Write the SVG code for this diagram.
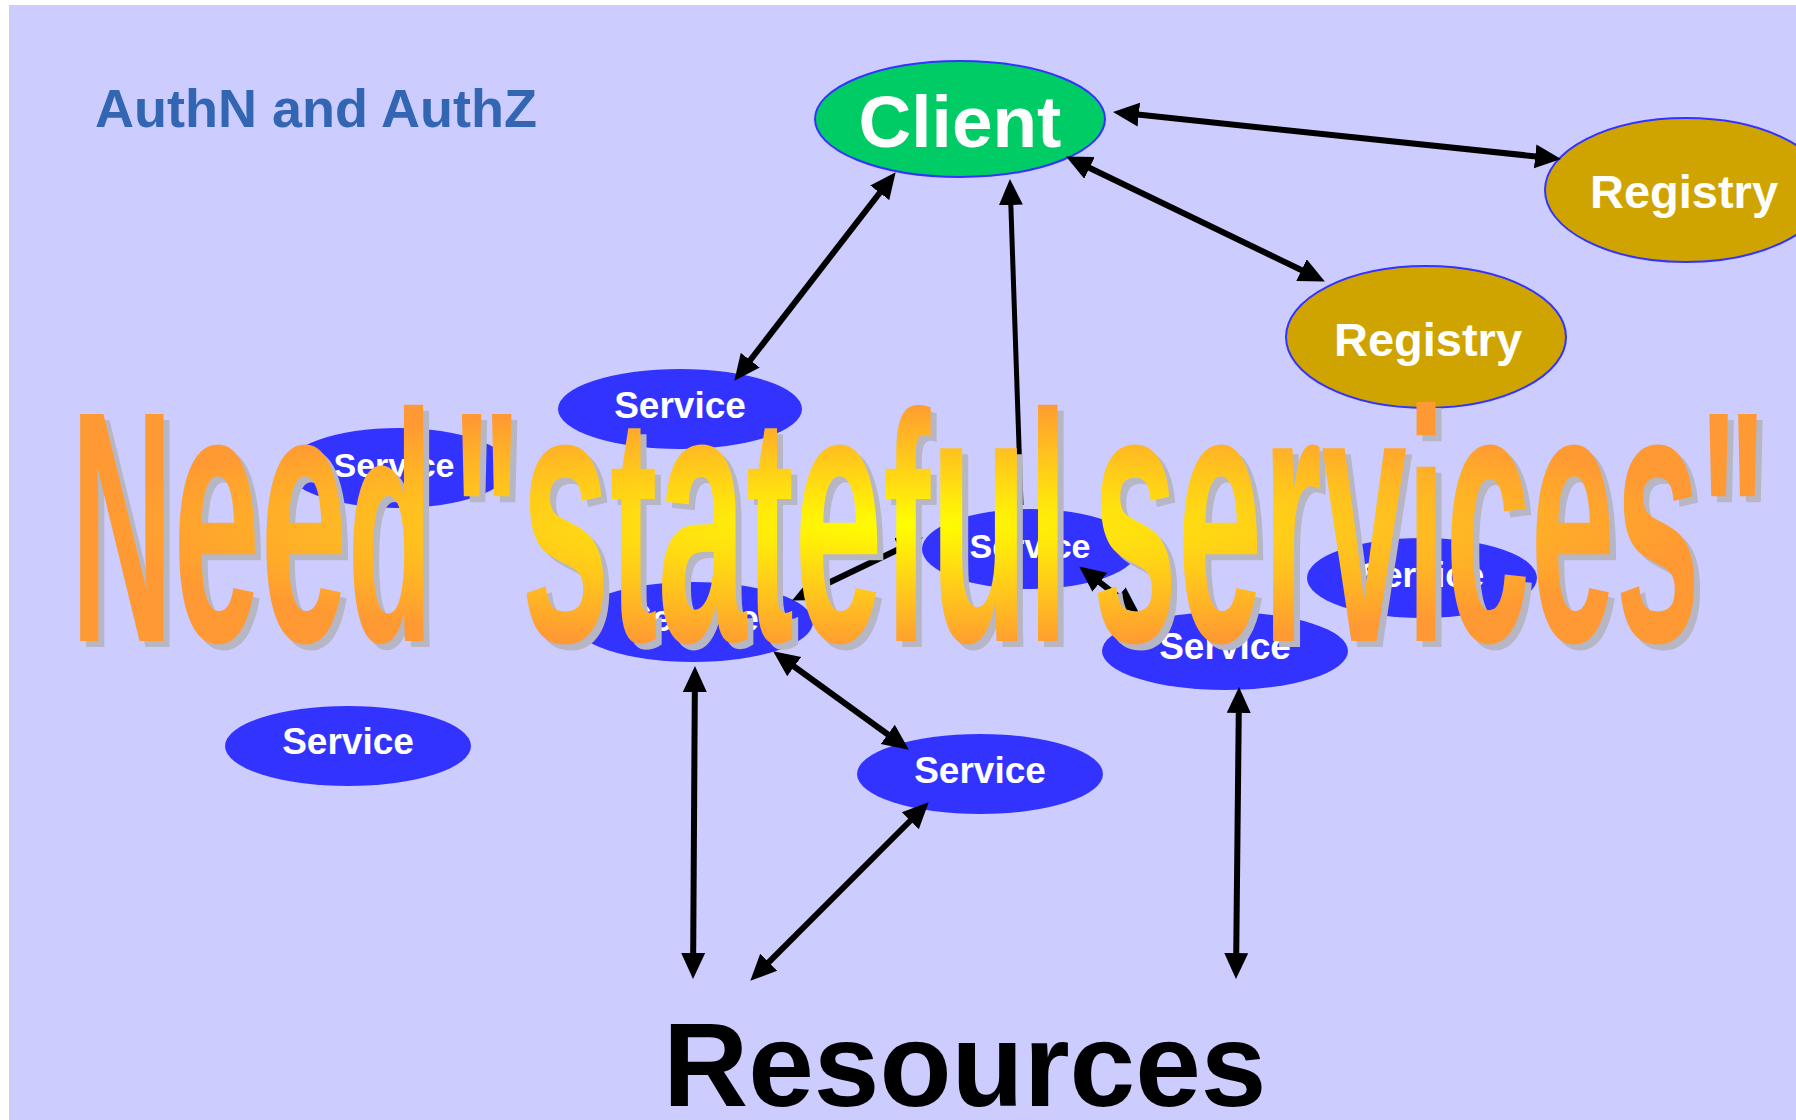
<svg xmlns="http://www.w3.org/2000/svg" width="1796" height="1120" viewBox="0 0 1796 1120">
  <style>
    .svc { fill: #3333FF; }
    .reg { fill: #D0A400; stroke: #3333FF; stroke-width: 2; }
    .lbl { font-family: "Liberation Sans", Arial, sans-serif; font-weight: bold; fill: #FFFFFF; text-anchor: middle; }
    .conn { stroke: #000000; stroke-width: 6; fill: none; marker-start: url(#ah); marker-end: url(#ah); }
    .wa { font-family: "Liberation Sans", Arial, sans-serif; font-weight: bold; }
    .x { font-size: 365px; }
    .a { font-size: 326px; }
    .i { font-size: 330px; }
    .c { font-size: 330px; }
  </style>
  <defs>
    <marker id="ah" viewBox="0 -13 26 26" markerWidth="26" markerHeight="26" refX="13" refY="0" orient="auto-start-reverse" markerUnits="userSpaceOnUse">
      <path d="M0,-12 L26,0 L0,12 z" fill="#000000"/>
    </marker>
    <radialGradient id="wag" gradientUnits="userSpaceOnUse" cx="0" cy="0" r="1" gradientTransform="translate(900 525) scale(800 125)">
      <stop offset="0" stop-color="#FFFF00"/>
      <stop offset="1" stop-color="#FF9933"/>
    </radialGradient>
  </defs>

  <rect x="0" y="0" width="1796" height="1120" fill="#FFFFFF"/>
  <rect x="9" y="5" width="1787" height="1115" fill="#CCCCFF"/>

  <g id="title">
    <text x="95" y="127" font-family="'Liberation Sans', Arial, sans-serif" font-weight="bold" font-size="54" fill="#3366B2">AuthN and AuthZ</text>
  </g>

  <g id="services">
    <g id="service-top">
      <ellipse class="svc" cx="680" cy="409" rx="122" ry="40"/>
      <text class="lbl" x="680" y="418" font-size="37">Service</text>
    </g>
    <g id="service-left">
      <ellipse class="svc" cx="398" cy="468" rx="112" ry="40"/>
      <text class="lbl" x="394" y="477" font-size="34">Service</text>
    </g>
    <g id="service-center">
      <ellipse class="svc" cx="693" cy="622" rx="120" ry="40"/>
      <text class="lbl" x="693" y="631" font-size="37">Service</text>
    </g>
    <g id="service-mid">
      <ellipse class="svc" cx="1030" cy="549" rx="108" ry="40"/>
      <text class="lbl" x="1030" y="558" font-size="34">Service</text>
    </g>
    <g id="service-right">
      <ellipse class="svc" cx="1422" cy="578" rx="115" ry="40"/>
      <text class="lbl" x="1422" y="587" font-size="35">Service</text>
    </g>
    <g id="service-lower-right">
      <ellipse class="svc" cx="1225" cy="651" rx="123" ry="39"/>
      <text class="lbl" x="1225" y="659" font-size="37">Service</text>
    </g>
    <g id="service-bottom">
      <ellipse class="svc" cx="980" cy="774" rx="123" ry="40"/>
      <text class="lbl" x="980" y="783" font-size="37">Service</text>
    </g>
    <g id="service-bottom-left">
      <ellipse class="svc" cx="348" cy="746" rx="123" ry="40"/>
      <text class="lbl" x="348" y="754" font-size="37">Service</text>
    </g>
  </g>

  <g id="client">
    <ellipse cx="960" cy="119" rx="145" ry="58" fill="#00CC66" stroke="#3333FF" stroke-width="2"/>
    <text class="lbl" x="960" y="147" font-size="73">Client</text>
  </g>

  <g id="registry-1">
    <ellipse class="reg" cx="1686" cy="190" rx="141" ry="72"/>
    <text class="lbl" x="1684" y="208" font-size="47">Registry</text>
  </g>

  <g id="registry-2">
    <ellipse class="reg" cx="1426" cy="337" rx="140" ry="71"/>
    <text class="lbl" x="1428" y="356" font-size="47">Registry</text>
  </g>

  <g id="resources">
    <text x="663" y="1106" font-family="'Liberation Sans', Arial, sans-serif" font-weight="bold" font-size="118" fill="#000000">Resources</text>
  </g>

  <g id="connectors">
    <line class="conn" x1="887.7" y1="182.5" x2="742.3" y2="370.5"/>
    <line class="conn" x1="1125.9" y1="113.3" x2="1548.1" y2="157.7"/>
    <line class="conn" x1="1077.8" y1="162.2" x2="1313.2" y2="275.8"/>
    <line x1="1021" y1="505" x2="1010.4" y2="192" stroke="#000000" stroke-width="5" marker-end="url(#ah)"/>
    <line class="conn" x1="803.8" y1="594.8" x2="911.2" y2="543.2"/>
    <line class="conn" x1="1089.5" y1="574.4" x2="1128.5" y2="604.6"/>
    <line class="conn" x1="783.7" y1="659" x2="898.3" y2="742"/>
    <line class="conn" x1="694.9" y1="679" x2="693.1" y2="966"/>
    <line class="conn" x1="919.5" y1="811.5" x2="759.5" y2="971.5"/>
    <line class="conn" x1="1238.9" y1="700" x2="1236.1" y2="966"/>
  </g>

  <g id="wordart">
    <g fill="#B6B6C4" transform="translate(6 6)">
      <text class="wa" x="70.7" y="641" textLength="362.2" lengthAdjust="spacingAndGlyphs"><tspan class="c">N</tspan><tspan class="x">ee</tspan><tspan class="a">d</tspan></text>
      <text class="wa" x="452.4" y="641" textLength="615.3" lengthAdjust="spacingAndGlyphs"><tspan class="c">"</tspan><tspan class="x">s</tspan><tspan class="a">t</tspan><tspan class="x">a</tspan><tspan class="a">t</tspan><tspan class="x">e</tspan><tspan class="a">f</tspan><tspan class="x">u</tspan><tspan class="a">l</tspan></text>
      <text class="wa" x="1092.4" y="641" textLength="673.4" lengthAdjust="spacingAndGlyphs"><tspan class="x">serv</tspan><tspan class="i">i</tspan><tspan class="x">ces</tspan><tspan class="c">"</tspan></text>
    </g>
    <g fill="url(#wag)">
      <text class="wa" x="70.7" y="641" textLength="362.2" lengthAdjust="spacingAndGlyphs"><tspan class="c">N</tspan><tspan class="x">ee</tspan><tspan class="a">d</tspan></text>
      <text class="wa" x="452.4" y="641" textLength="615.3" lengthAdjust="spacingAndGlyphs"><tspan class="c">"</tspan><tspan class="x">s</tspan><tspan class="a">t</tspan><tspan class="x">a</tspan><tspan class="a">t</tspan><tspan class="x">e</tspan><tspan class="a">f</tspan><tspan class="x">u</tspan><tspan class="a">l</tspan></text>
      <text class="wa" x="1092.4" y="641" textLength="673.4" lengthAdjust="spacingAndGlyphs"><tspan class="x">serv</tspan><tspan class="i">i</tspan><tspan class="x">ces</tspan><tspan class="c">"</tspan></text>
    </g>
  </g>
</svg>
